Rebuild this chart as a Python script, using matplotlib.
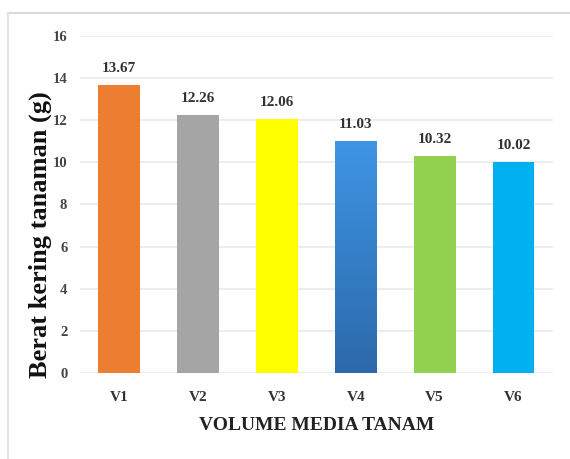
import numpy as np
import matplotlib
matplotlib.use("Agg")
import matplotlib.pyplot as plt
from matplotlib.lines import Line2D
from matplotlib.colors import LinearSegmentedColormap

categories = ["V1", "V2", "V3", "V4", "V5", "V6"]
values = [13.67, 12.26, 12.06, 11.03, 10.32, 10.02]
value_labels = ["13.67", "12.26", "12.06", "11.03", "10.32", "10.02"]
bar_colors = ["#ED7D31", "#A5A5A5", "#FFFF00", "#3A8AD6", "#92D050", "#00B0F0"]
y_ticks = [0, 2, 4, 6, 8, 10, 12, 14, 16]

plt.rcParams["font.family"] = ["Liberation Serif", "DejaVu Serif"]

fig = plt.figure(figsize=(5.70, 4.59), dpi=100)
ax = fig.add_axes([0.140, 0.187, 0.830, 0.735])

x = np.arange(len(categories))
bars = ax.bar(x, values, width=0.53, color=bar_colors, zorder=3)

# vertical gradient fill for the fourth bar
grad_cmap = LinearSegmentedColormap.from_list("blue_grad", ["#2C69AA", "#3E95E4"])
b = bars[3]
bx, bw, bh = b.get_x(), b.get_width(), b.get_height()
grad = np.linspace(0, 1, 256).reshape(-1, 1)
im = ax.imshow(grad, cmap=grad_cmap, origin="lower", aspect="auto",
               extent=[bx, bx + bw, 0, bh], zorder=3.5)
im.set_clip_path(b)

for xi, v, lab in zip(x, values, value_labels):
    ax.text(xi, v + 0.45, lab, ha="center", va="bottom", fontsize=11,
            fontweight="bold", color="#333333")

ax.set_xlim(-0.5, len(categories) - 0.5)
ax.set_ylim(0, 16)
ax.set_yticks(y_ticks)
ax.set_yticklabels([str(t) for t in y_ticks], fontsize=10.5, fontweight="bold",
                   color="#444444")
ax.set_xticks(x)
ax.set_xticklabels(categories, fontsize=11, fontweight="bold", color="#333333")
ax.tick_params(axis="both", length=0)
ax.tick_params(axis="x", pad=13)
ax.tick_params(axis="y", pad=9)

ax.grid(axis="y", color="#EAEAEA", linewidth=1.2, zorder=0)
for s in ax.spines.values():
    s.set_visible(False)

ax.set_ylabel("Berat kering tanaman (g)", fontsize=19, fontweight="bold",
              color="#111111")
ax.yaxis.set_label_coords(-0.058, 0.41)
ax.set_xlabel("VOLUME MEDIA TANAM", fontsize=14, fontweight="bold",
              labelpad=9, color="#222222")

# chart area frame
fig.add_artist(Line2D([8 / 570, 1.0], [1 - 13 / 459, 1 - 13 / 459],
                      transform=fig.transFigure, color="#D9D9D9", linewidth=1.5))
fig.add_artist(Line2D([8 / 570, 8 / 570], [0.0, 1 - 13 / 459],
                      transform=fig.transFigure, color="#E3E3E3", linewidth=1.5))

fig.savefig("out.png", dpi=100)
